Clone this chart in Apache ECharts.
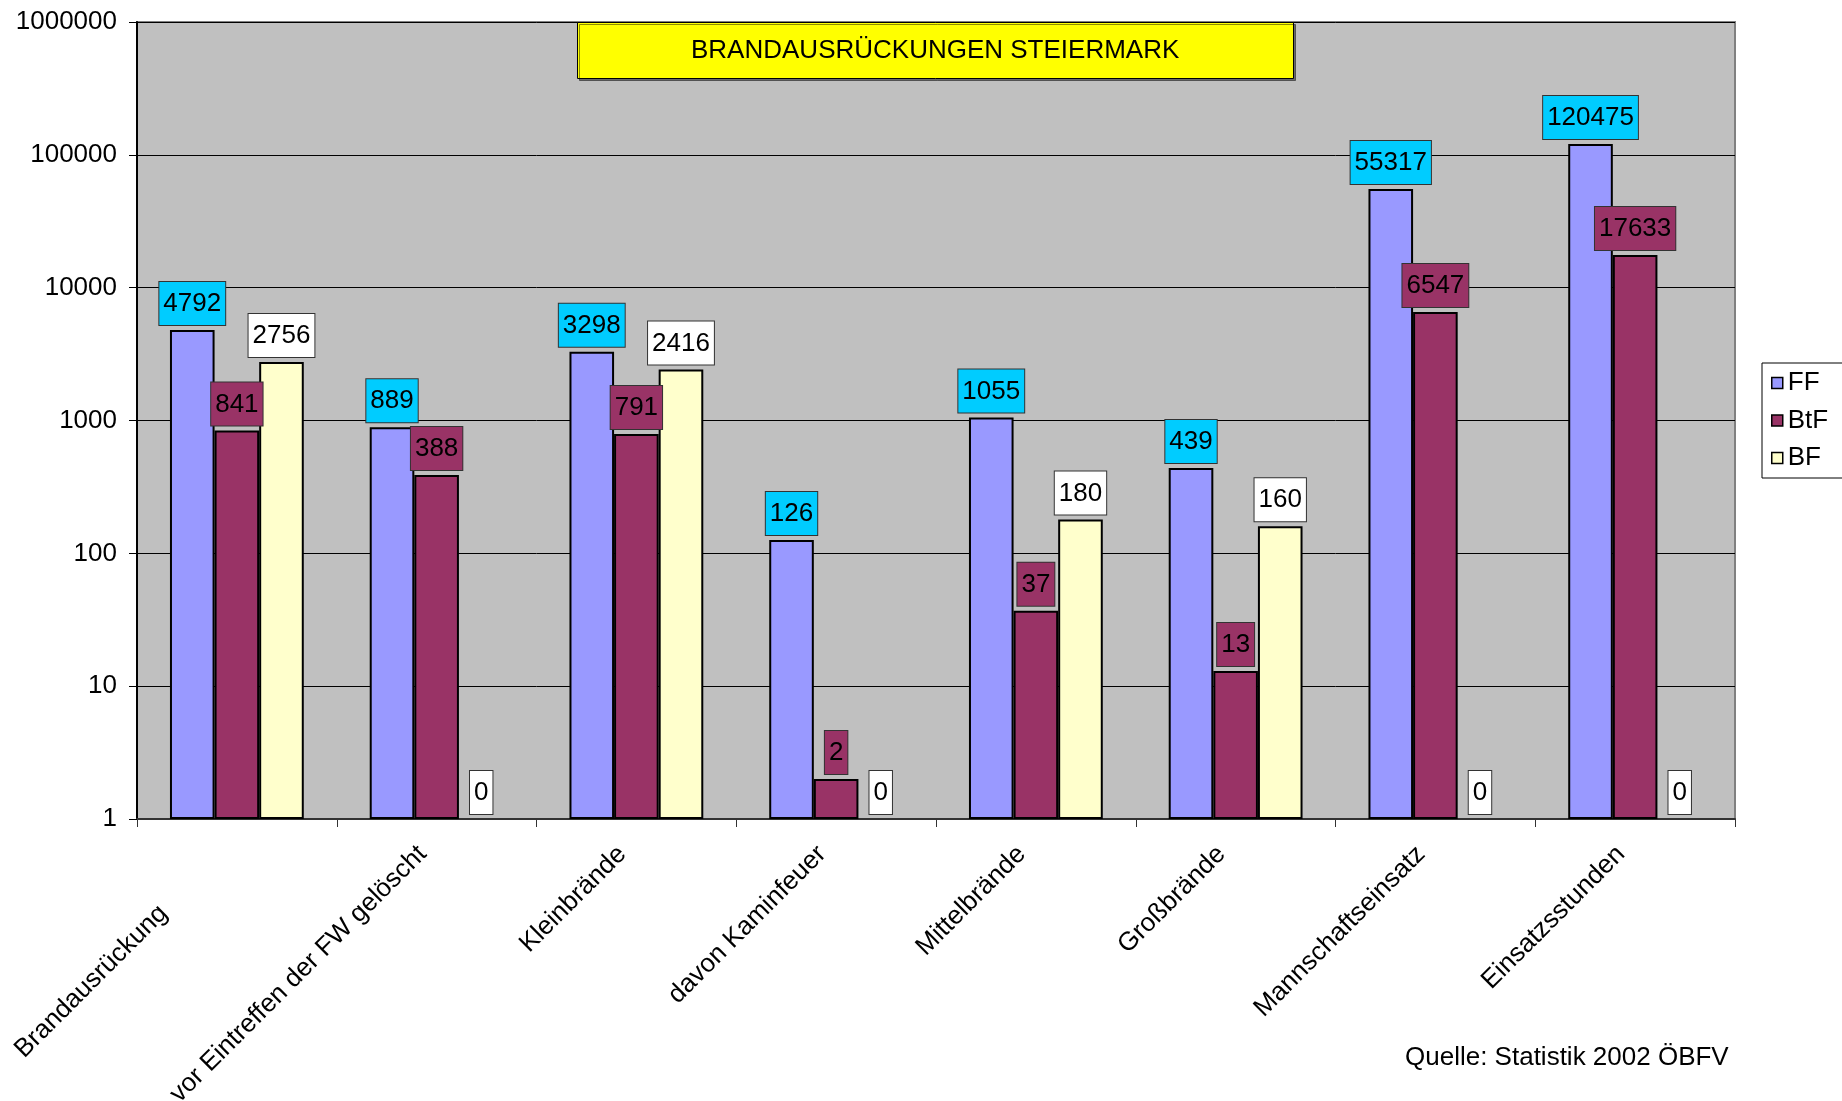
<!DOCTYPE html>
<html>
<head>
<meta charset="utf-8">
<title>Brandausrückungen Steiermark</title>
<script src="https://cdn.jsdelivr.net/npm/echarts@6/dist/echarts.min.js"></script>
<style>
  html, body { margin: 0; padding: 0; background: #fff; }
  #chart { width: 1842px; height: 1101px; }
</style>
</head>
<body>
<div id="chart"></div>
<script>
// Kategorien der Auswertung
const categories = [
  'Brandausrückung',
  'vor Eintreffen der FW gelöscht',
  'Kleinbrände',
  'davon Kaminfeuer',
  'Mittelbrände',
  'Großbrände',
  'Mannschaftseinsatz',
  'Einsatzsstunden'
];

// Freiwillige Feuerwehren, Betriebsfeuerwehren, Berufsfeuerwehr
const seriesNames = ['FF', 'BtF', 'BF'];
const ffValues  = [4792, 889, 3298, 126, 1055, 439, 55317, 120475];
const btfValues = [841, 388, 791, 2, 37, 13, 6547, 17633];
const bfValues  = [2756, 0, 2416, 0, 180, 160, 0, 0];

// Beschriftung der logarithmischen Achse
const yTickLabels = ['1', '10', '100', '1000', '10000', '100000', '1000000'];
const Y_MIN = Number(yTickLabels[0]);
const Y_MAX = Number(yTickLabels[yTickLabels.length - 1]);

const FONT = '"Liberation Sans", Arial, sans-serif';
const BAR_RATIO = 0.2233; // Balkenbreite relativ zur Kategorienbreite
const LABEL_PAD = [9, 4, 8, 4];

function valueLabel(bg) {
  return {
    show: true,
    position: 'top',
    distance: 5,
    color: '#000',
    fontFamily: FONT,
    fontSize: 26,
    lineHeight: 26,
    backgroundColor: bg,
    borderColor: '#333',
    borderWidth: 1,
    padding: LABEL_PAD
  };
}

function barSeries(name, values, color, labelBg) {
  return {
    name: name,
    type: 'bar',
    barWidth: (BAR_RATIO * 100) + '%',
    barGap: '0%',
    data: values.map(v => (v > 0 ? v : null)),
    itemStyle: { color: color, borderColor: '#000', borderWidth: 2 },
    label: valueLabel(labelBg)
  };
}

// Nullwerte lassen sich auf der Log-Achse nicht als Balken zeichnen:
// ihre Beschriftung sitzt an der Achsenbasis an der Position des BF-Balkens.
const zeroData = bfValues
  .map((v, i) => [i, v])
  .filter(d => d[1] === 0);

function renderZeroLabel(params, api) {
  const cat = api.value(0);
  const base = api.coord([cat, Y_MIN]);
  const band = api.size([1, 1])[0];
  const x = base[0] + band * BAR_RATIO;
  return {
    type: 'text',
    x: x,
    y: base[1] - 5,
    z2: 10,
    style: {
      text: String(api.value(1)),
      font: '26px ' + FONT,
      fill: '#000',
      align: 'center',
      verticalAlign: 'bottom',
      lineHeight: 26,
      backgroundColor: '#fff',
      borderColor: '#333',
      borderWidth: 1,
      padding: LABEL_PAD
    }
  };
}

// Schräge Achsenbeschriftung: leicht links neben der Kategorienmitte,
// die erste Beschriftung weiter nach unten links versetzt.
const xAxisData = categories.map((c, i) =>
  i === 0 ? { value: c, textStyle: { padding: [0, 104, 24, 0] } } : c
);

const chart = echarts.init(document.getElementById('chart'), null, { renderer: 'canvas' });

chart.setOption({
  animation: false,
  backgroundColor: '#fff',
  textStyle: { fontFamily: FONT },
  title: [
    {
      text: 'BRANDAUSRÜCKUNGEN STEIERMARK',
      left: 577,
      top: 22,
      padding: [15, 114, 14, 114],
      backgroundColor: '#FFFF00',
      borderColor: '#000',
      borderWidth: 1,
      shadowColor: 'rgba(0,0,0,0.45)',
      shadowOffsetX: 2,
      shadowOffsetY: 2,
      shadowBlur: 0,
      textStyle: { fontFamily: FONT, fontSize: 26, lineHeight: 28, fontWeight: 'normal', color: '#000' }
    },
    {
      text: 'Quelle: Statistik 2002 ÖBFV',
      left: 1405,
      top: 1045,
      padding: 0,
      textStyle: { fontFamily: FONT, fontSize: 26, lineHeight: 26, fontWeight: 'normal', color: '#000' }
    }
  ],
  legend: {
    data: seriesNames,
    orient: 'vertical',
    left: 1762,
    top: 363,
    padding: [7, 60, 7, 9],
    itemGap: 11.5,
    itemWidth: 11,
    itemHeight: 11,
    icon: 'rect',
    backgroundColor: '#fff',
    borderColor: '#000',
    borderWidth: 1,
    itemStyle: { borderColor: '#000', borderWidth: 1.5 },
    textStyle: { fontFamily: FONT, fontSize: 26, lineHeight: 26, color: '#000' }
  },
  grid: {
    left: 137,
    right: 107,
    top: 22,
    bottom: 282,
    containLabel: false,
    outerBoundsMode: 'none',
    show: true,
    backgroundColor: '#C0C0C0',
    borderColor: '#808080',
    borderWidth: 2
  },
  xAxis: {
    type: 'category',
    data: xAxisData,
    boundaryGap: true,
    axisLine: { show: true, lineStyle: { color: '#333', width: 2 } },
    axisTick: { show: true, length: 8, interval: 0, alignWithLabel: false, lineStyle: { color: '#333', width: 1 } },
    axisLabel: {
      interval: 0,
      rotate: 45,
      margin: 17,
      padding: [0, 20, 0, 0],
      hideOverlap: false,
      fontFamily: FONT,
      fontSize: 26,
      color: '#000'
    },
    splitLine: { show: false }
  },
  yAxis: {
    type: 'log',
    logBase: 10,
    min: Y_MIN,
    max: Y_MAX,
    splitNumber: 6,
    axisLine: { show: true, lineStyle: { color: '#000', width: 2 } },
    axisTick: { show: true, length: 8, lineStyle: { color: '#000', width: 1 } },
    axisLabel: {
      margin: 20,
      fontFamily: FONT,
      fontSize: 26,
      color: '#000',
      formatter: v => yTickLabels[Math.round(Math.log10(v))] || String(v)
    },
    splitLine: { show: true, lineStyle: { color: '#000', width: 1 } },
    minorTick: { show: false },
    minorSplitLine: { show: false }
  },
  series: [
    barSeries('FF', ffValues, '#9999FF', '#00CCFF'),
    barSeries('BtF', btfValues, '#993366', '#993366'),
    barSeries('BF', bfValues, '#FFFFCC', '#FFFFFF'),
    {
      name: 'BF-Null',
      type: 'custom',
      data: zeroData,
      encode: { x: 0, y: 1 },
      renderItem: renderZeroLabel,
      silent: true,
      z: 5
    }
  ]
});
</script>
</body>
</html>
